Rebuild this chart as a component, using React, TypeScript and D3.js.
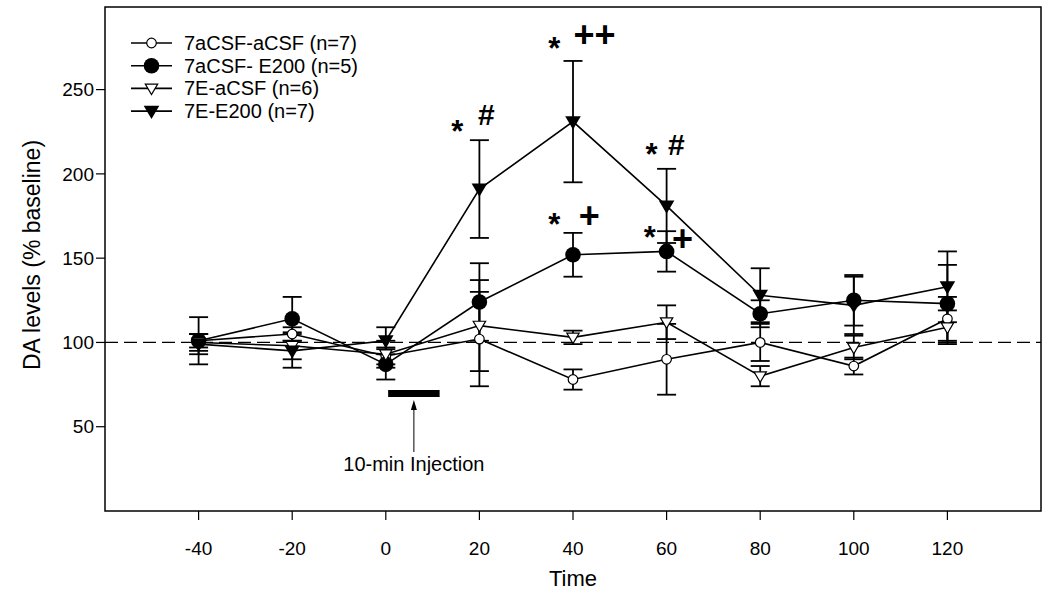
import React from "react";
import * as d3 from "d3";

const times = [-40, -20, 0, 20, 40, 60, 80, 100, 120];
const xTicks = [-40, -20, 0, 20, 40, 60, 80, 100, 120];
const yTicks = [50, 100, 150, 200, 250];

const names = ["7aCSF-aCSF (n=7)", "7aCSF- E200 (n=5)", "7E-aCSF (n=6)", "7E-E200 (n=7)"];
const markers = ["openCircle", "filledCircle", "openTri", "filledTri"];

const meanA = [101, 105, 92, 102, 78, 90, 100, 86, 114];
const errA = [4, 4, 5, 28, 6, 21, 11, 5, 13];
const meanB = [101, 114, 87, 124, 152, 154, 117, 125, 123];
const errB = [14, 13, 9, 23, 13, 12, 8, 15, 23];
const meanC = [100, 98, 93, 110, 103, 112, 80, 97, 109];
const errC = [5, 8, 8, 27, 4, 10, 6, 7, 10];
const meanD = [99, 95, 101, 191, 231, 181, 128, 122, 133];
const errD = [6, 10, 8, 29, 36, 22, 16, 17, 21];

const baseline = 100;
const injection = [0.5, 11.5];

// annotations: [time, value, text, kind]
const annotations: [number, number, string, string][] = [
  [15.3, 219, "*", "star"],
  [21.5, 229, "#", "hash"],
  [36, 268, "*", "star"],
  [44.6, 275, "++", "plus"],
  [56.8, 205, "*", "star"],
  [62.1, 211, "#", "hash"],
  [36, 164, "*", "star"],
  [43.5, 168, "+", "plus"],
  [56.4, 156, "*", "star"],
  [63.4, 154, "+", "plus"],
];

const W = 1050;
const H = 598;
const left = 105;
const right = 1041;
const top = 7;
const bottom = 511;
const font = "'Liberation Sans', Arial, Helvetica, sans-serif";

function Marker({ kind, x, y }: { kind: string; x: number; y: number }) {
  if (kind === "openCircle")
    return <circle cx={x} cy={y} r={4.8} fill="white" stroke="black" strokeWidth={1.2} />;
  if (kind === "filledCircle") return <circle cx={x} cy={y} r={7.8} fill="black" />;
  if (kind === "openTri") {
    const s = 6.2;
    return (
      <path
        d={`M${x - s},${y - s * 0.7}L${x + s},${y - s * 0.7}L${x},${y + s * 1.0}Z`}
        fill="white"
        stroke="black"
        strokeWidth={1.2}
      />
    );
  }
  const s = 7.8;
  return <path d={`M${x - s},${y - s * 0.7}L${x + s},${y - s * 0.7}L${x},${y + s * 1.0}Z`} fill="black" />;
}

export default function App() {
  const x = d3.scaleLinear().domain([-60, 140]).range([left, right]);
  const y = d3.scaleLinear().domain([0, 299]).range([bottom, top]);
  const series = [
    { m: meanA, e: errA },
    { m: meanB, e: errB },
    { m: meanC, e: errC },
    { m: meanD, e: errD },
  ];
  const line = d3
    .line<number>()
    .x((_, i) => x(times[i]))
    .y((d) => y(d));
  const cap = 9.5;

  return (
    <svg
      width={W}
      height={H}
      style={{ position: "absolute", left: 0, top: 0, background: "white" }}
      fontFamily={font}
    >
      <rect x={0} y={0} width={W} height={H} fill="white" />
      {/* baseline */}
      <line x1={left} x2={right} y1={y(baseline)} y2={y(baseline)} stroke="black" strokeWidth={1.2} strokeDasharray="13,6" />
      {/* error bars */}
      {series.map((s, si) =>
        s.m.map((v, i) => {
          const cx = x(times[i]);
          const y1 = y(v + s.e[i]);
          const y2 = y(v - s.e[i]);
          return (
            <g key={`e${si}-${i}`} stroke="black" strokeWidth={1.8}>
              <line x1={cx} x2={cx} y1={y1} y2={y2} />
              <line x1={cx - cap} x2={cx + cap} y1={y1} y2={y1} />
              <line x1={cx - cap} x2={cx + cap} y1={y2} y2={y2} />
            </g>
          );
        })
      )}
      {/* lines */}
      {series.map((s, si) => (
        <path key={`l${si}`} d={line(s.m) || ""} fill="none" stroke="black" strokeWidth={1.6} />
      ))}
      {/* markers */}
      {series.map((s, si) =>
        s.m.map((v, i) => <Marker key={`m${si}-${i}`} kind={markers[si]} x={x(times[i])} y={y(v)} />)
      )}
      {/* frame */}
      <rect x={left} y={top} width={right - left} height={bottom - top} fill="none" stroke="black" strokeWidth={1.5} />
      {/* y axis ticks */}
      {yTicks.map((t) => (
        <g key={`yt${t}`}>
          <line x1={left - 9} x2={left} y1={y(t)} y2={y(t)} stroke="black" strokeWidth={1.2} />
          <text x={left - 11} y={y(t)} dy="0.35em" textAnchor="end" fontSize={19}>
            {t}
          </text>
        </g>
      ))}
      {/* x axis ticks */}
      {xTicks.map((t) => (
        <g key={`xt${t}`}>
          <line x1={x(t)} x2={x(t)} y1={bottom} y2={bottom + 9} stroke="black" strokeWidth={1.2} />
          <text x={x(t)} y={bottom + 44} textAnchor="middle" fontSize={19}>
            {t}
          </text>
        </g>
      ))}
      <text x={(left + right) / 2} y={586} textAnchor="middle" fontSize={22}>
        Time
      </text>
      <text
        transform={`translate(40,255) rotate(-90)`}
        textAnchor="middle"
        fontSize={23}
      >
        DA levels (% baseline)
      </text>
      {/* injection bar */}
      <rect
        x={x(injection[0])}
        y={390}
        width={x(injection[1]) - x(injection[0])}
        height={7}
        fill="black"
      />
      <line x1={x(6)} x2={x(6)} y1={452} y2={404} stroke="black" strokeWidth={1} />
      <path d={`M${x(6) - 3},${410}L${x(6) + 3},${410}L${x(6)},${400}Z`} fill="black" />
      <text x={x(6)} y={471} textAnchor="middle" fontSize={20}>
        10-min Injection
      </text>
      {/* annotations */}
      {annotations.map(([t, v, txt, kind], i) => (
        <text
          key={`a${i}`}
          x={x(t)}
          y={y(v)}
          textAnchor="middle"
          fontWeight="bold"
          fontSize={kind === "plus" ? 36 : kind === "hash" ? 30 : 31}
        >
          {txt}
        </text>
      ))}
      {/* legend */}
      {names.map((n, i) => {
        const ly = 43 + i * 22.7;
        return (
          <g key={`lg${i}`}>
            <line x1={131} x2={172} y1={ly} y2={ly} stroke="black" strokeWidth={1.6} />
            <Marker kind={markers[i]} x={151.5} y={ly} />
            <text x={184} y={ly} dy="0.35em" fontSize={20}>
              {n}
            </text>
          </g>
        );
      })}
    </svg>
  );
}
